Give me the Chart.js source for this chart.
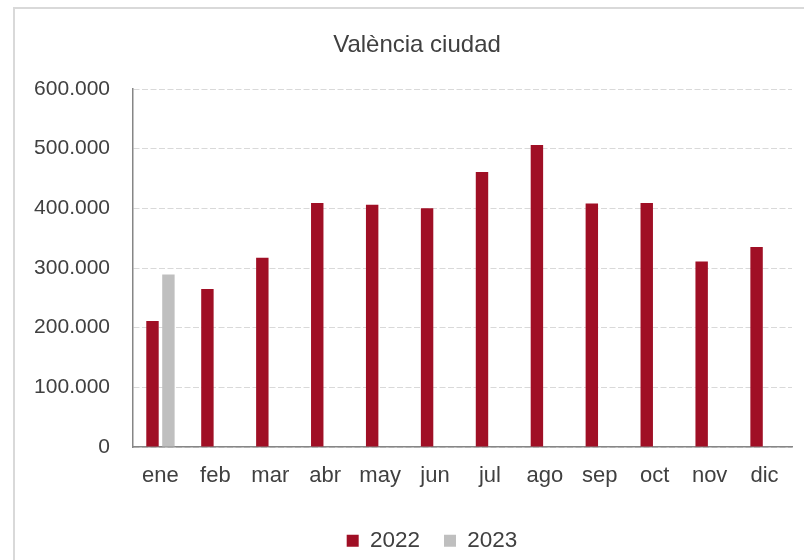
<!DOCTYPE html>
<html>
<head>
<meta charset="utf-8">
<script src="https://cdn.jsdelivr.net/npm/chart.js@4.4.0/dist/chart.umd.min.js"></script>
<style>
  html, body { margin: 0; padding: 0; background: #fff; width: 804px; height: 560px; overflow: hidden; }
  #frame { position: absolute; left: 13px; top: 7px; width: 900px; height: 700px; border: 2px solid #d9d9d9; box-sizing: border-box; }
  #c { position: absolute; left: 0; top: 0; }
</style>
</head>
<body>
<div id="frame"></div>
<canvas id="c" width="804" height="562" style="width:804px;height:562px"></canvas>
<script>
const chartTitle = 'València ciudad';
const months = ['ene', 'feb', 'mar', 'abr', 'may', 'jun', 'jul', 'ago', 'sep', 'oct', 'nov', 'dic'];
const seriesNames = ['2022', '2023'];
const values2022 = [211000, 265000, 317000, 409000, 406000, 400000, 461000, 506000, 408000, 409000, 311000, 335000];
const values2023 = [289000, null, null, null, null, null, null, null, null, null, null, null];
const yTicks = [0, 100000, 200000, 300000, 400000, 500000, 600000];

const FONT = '"Liberation Sans", Arial, sans-serif';
const TXT = '#404040';

function fmt(v) {
  return String(Math.round(v)).replace(/\B(?=(\d{3})+(?!\d))/g, '.');
}

const boxShift = {
  id: 'boxShift',
  afterLayout(chart) {
    if (chart.titleBlock) { chart.titleBlock.left += 21; chart.titleBlock.right += 21; }
    if (chart.legend) { chart.legend.left += 36; chart.legend.right += 36; }
  }
};

new Chart(document.getElementById('c'), {
  type: 'bar',
  data: {
    labels: months,
    datasets: [
      { label: seriesNames[0], data: values2022, backgroundColor: '#A00F25', borderWidth: 0 },
      { label: seriesNames[1], data: values2023, backgroundColor: '#BFBFBF', borderWidth: 0 }
    ]
  },
  options: {
    responsive: false,
    animation: false,
    devicePixelRatio: 1,
    categoryPercentage: 0.58,
    barPercentage: 0.78,
    layout: { padding: { left: 0, right: 12, top: 0, bottom: 0 } },
    plugins: {
      title: {
        display: true,
        text: chartTitle,
        color: TXT,
        font: { family: FONT, size: 24, weight: 'normal' },
        padding: { top: 31, bottom: 29.2 }
      },
      legend: {
        position: 'bottom',
        labels: {
          boxWidth: 12,
          boxHeight: 12,
          padding: 24,
          color: TXT,
          font: { family: FONT, size: 22.5 }
        }
      },
      tooltip: { enabled: false }
    },
    scales: {
      x: {
        grid: { display: false, drawTicks: false },
        border: { display: true, color: '#868686', width: 1.5 },
        ticks: { color: TXT, font: { family: FONT, size: 22 }, padding: 16, maxRotation: 0, autoSkip: false },
        afterFit(s) { s.height = 58.5; }
      },
      y: {
        min: 0,
        max: 600000,
        afterBuildTicks(s) { s.ticks = yTicks.map(v => ({ value: v })); },
        grid: { color: '#d9d9d9', lineWidth: 1, drawTicks: false },
        border: { display: true, color: '#868686', width: 1.5, dash: [6, 2.5] },
        ticks: { color: TXT, font: { family: FONT, size: 21 }, padding: 23, callback: v => fmt(v) },
        afterFit(s) { s.width = 133; }
      }
    }
  },
  plugins: [boxShift]
});
</script>
</body>
</html>
